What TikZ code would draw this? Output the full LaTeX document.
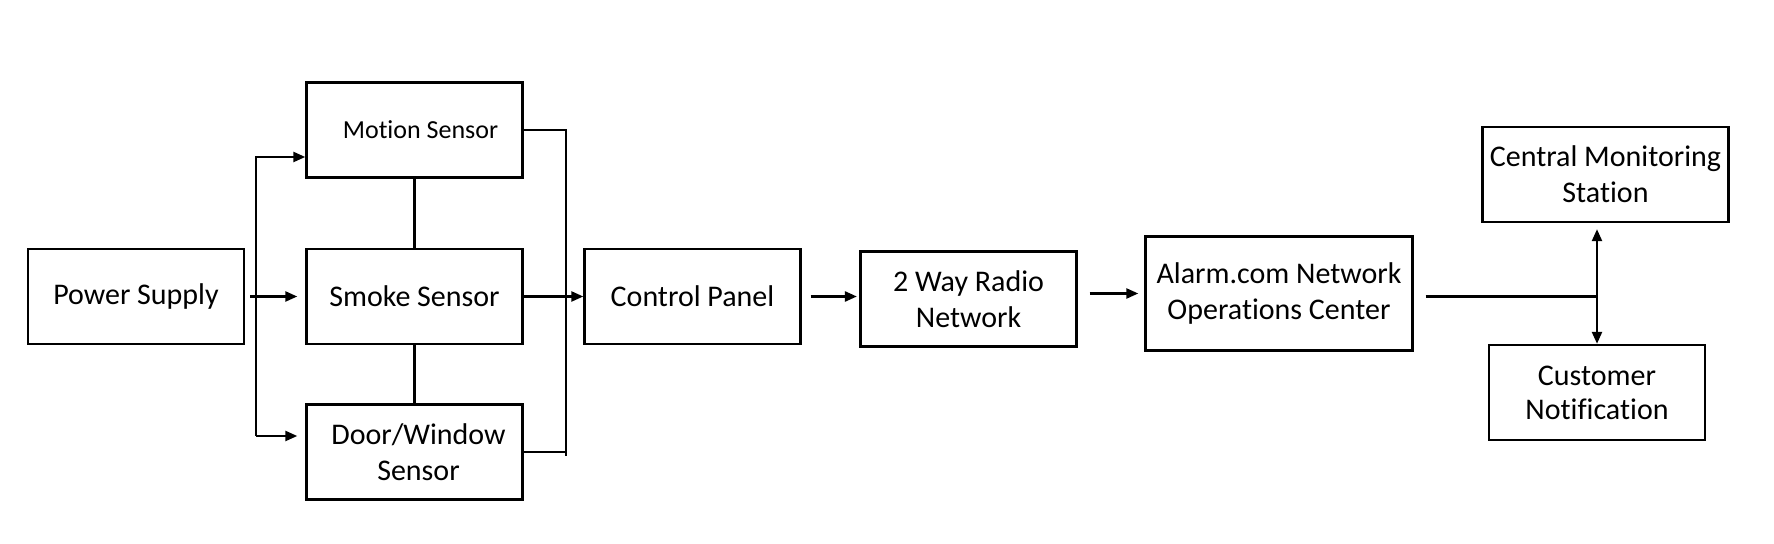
\documentclass[tikz,border=0pt]{standalone}
\usepackage{fontspec}
\setmainfont[Ligatures=NoCommon]{Carlito}
\usetikzlibrary{calc, arrows.meta}

\begin{document}
\begin{tikzpicture}[x=0.5pt, y=-0.5pt, line width=1.2pt,
        block/.style={draw, rectangle, minimum width=108pt, minimum height=47.5pt,
            inner sep=0pt, align=center, font=\fontsize{15}{18}\selectfont},
        arr/.style={-{Triangle[length=6pt, width=5pt]}}]
        \useasboundingbox (0,0) rectangle (1774,544);

        \node [block] (power) at (136,296.5) {Power Supply};
        \node [block, font=\fontsize{13}{16}\selectfont] (motion) at (414.5,130) {\hspace*{6pt}Motion Sensor};
        \node [block] (smoke) at (414.5,296.5) {Smoke Sensor};
        \node [block] (door) at (414.5,452) {\hspace*{4pt}Door/Window\\\hspace*{4pt}Sensor};
        \node [block] (panel) at (692.5,296.5) {Control Panel};
        \node [block] (radio) at (968.5,299) {2 Way Radio\\Network};
        \node [block, minimum width=133.5pt, minimum height=57pt] (noc) at (1279,293.5) {Alarm.com Network\\Operations Center};
        \node [block, minimum width=123pt] (station) at (1605.5,174.5) {Central Monitoring\\Station};
        \node [block] (customer) at (1597,392.5) {Customer\\[-1pt]Notification};

        \coordinate (lt) at (256,157);
        \coordinate (lb) at (256,436);
        \coordinate (rt) at (566,130);
        \coordinate (rb) at (566,456);
        \coordinate (nj) at (1597,296.5);

        \draw[arr]
            ([xshift=2.5pt]power.east) -- ([xshift=-4pt]smoke.west)
            ;
        \draw[arr]
            (lb) -- (lt) -- (motion.west |- lt)
            ;
        \draw[arr]
            (lb) -- ([xshift=-4pt]door.west |- lb)
            ;
        \draw
            (motion.south) -- (smoke.north)
            (smoke.south) -- (door.north)
            (motion.east) -- (rt) -- (rb)
            (door.east) -- (door.east -| rb)
            ;
        \draw[arr] (smoke) -- (panel);
        \draw[arr, shorten <=4.5pt, shorten >=1.2pt] (panel.east) -- (panel.east -| radio.west);
        \draw[arr, shorten <=6pt, shorten >=3pt] (radio.east |- noc.east) -- (noc.west);
        \draw[shorten <=6pt] (noc.east |- nj) -- (nj);
        \draw[arr, shorten >=3pt] (nj) -- (nj |- station.south);
        \draw[arr] (nj) -- (nj |- customer.north);

    \end{tikzpicture}
\end{document}
